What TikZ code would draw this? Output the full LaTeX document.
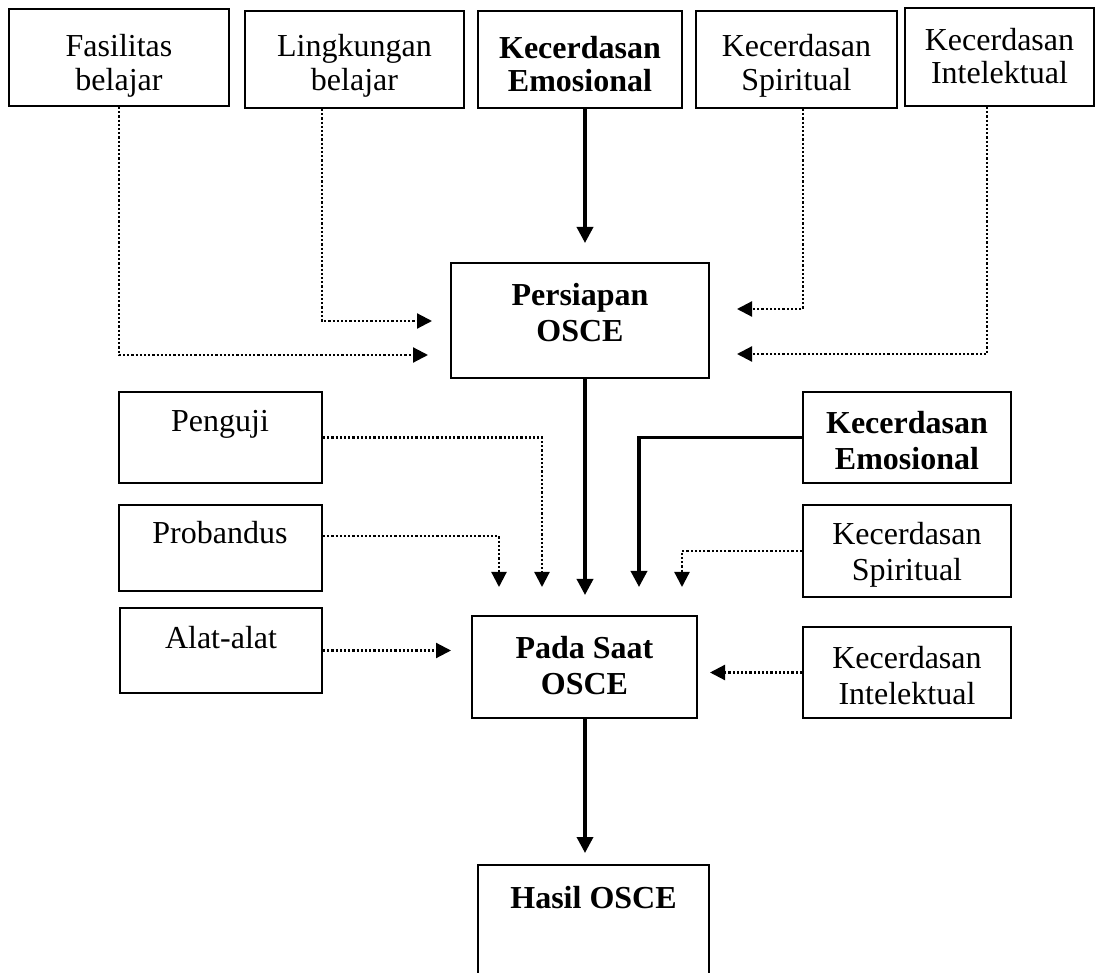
\documentclass[tikz,border=0pt]{standalone}
\usepackage{fontspec}
\setmainfont{Liberation Serif}
\usetikzlibrary{arrows.meta}
\tikzset{
  box/.style={draw, line width=2pt, inner sep=0pt},
  lbl/.style={font=\fontsize{32}{36}\selectfont, align=center, inner sep=0pt},
  lbltop/.style={font=\fontsize{32}{33.5}\selectfont, align=center, inner sep=0pt},
  dotarr/.style={line width=2.2pt, dash pattern=on 2.2pt off 2pt, -{Triangle[length=15pt,width=15pt]}},
  solarr/.style={line width=3.5pt, -{Triangle[length=16pt,width=16pt]}},
}
\begin{document}
\begin{tikzpicture}[x=1pt,y=-1pt]
\useasboundingbox (0,0) rectangle (1096,973);
\clip (0,0) rectangle (1096,973);

% top row boxes
\node[box, minimum width=220pt, minimum height=97pt] (fas) at (119,57.5) {};
\node[box, minimum width=219pt, minimum height=97pt] (ling) at (354.5,59.5) {};
\node[box, minimum width=204pt, minimum height=97pt] (emoA) at (580,59.5) {};
\node[box, minimum width=201pt, minimum height=97pt] (spiA) at (796.5,59.5) {};
\node[box, minimum width=189pt, minimum height=98pt] (intA) at (999.5,57) {};

\node[lbltop] (fasT) at (119,66) {Fasilitas\\belajar};
\node[lbltop] (lingT) at (354.5,66) {Lingkungan\\belajar};
\node[lbltop] (emoAT) at (580,64) {\textbf{Kecerdasan}\\\textbf{Emosional}};
\node[lbltop] (spiAT) at (796.5,66) {Kecerdasan\\Spiritual};
\node[lbltop] (intAT) at (999.5,56) {Kecerdasan\\Intelektual};

% middle
\node[box, minimum width=258pt, minimum height=115pt] (pers) at (580,320.5) {};
\node[lbl] (persT) at (580,313) {\textbf{Persiapan}\\\textbf{OSCE}};

% left boxes
\node[box, minimum width=203pt, minimum height=91pt] (pen) at (220.5,437.5) {};
\node[box, minimum width=203pt, minimum height=86pt] (prob) at (220.5,548) {};
\node[box, minimum width=202pt, minimum height=85pt] (alat) at (221,650.5) {};
\node[lbl] (penT) at (220,424) {Penguji};
\node[lbl] (probT) at (220,533) {Probandus};
\node[lbl] (alatT) at (221,638) {Alat-alat};

% right boxes
\node[box, minimum width=208pt, minimum height=91pt] (emoB) at (907,437.5) {};
\node[box, minimum width=208pt, minimum height=92pt] (spiB) at (907,551) {};
\node[box, minimum width=208pt, minimum height=91pt] (intB) at (907,672.5) {};
\node[lbl] (emoBT) at (907,441) {\textbf{Kecerdasan}\\\textbf{Emosional}};
\node[lbl] (spiBT) at (907,555) {Kecerdasan\\Spiritual};
\node[lbl] (intBT) at (907,676) {Kecerdasan\\Intelektual};

% Pada Saat
\node[box, minimum width=225pt, minimum height=102pt] (pada) at (584.5,667) {};
\node[lbl] (padaT) at (584.5,666) {\textbf{Pada Saat}\\\textbf{OSCE}};

% Hasil
\node[box, minimum width=231pt, minimum height=160pt] (hasil) at (593.5,945) {};
\node[lbl] (hasilT) at (593.5,898) {\textbf{Hasil OSCE}};

% helper coordinates
\coordinate (lingX) at (322,0);
\coordinate (emoX) at (585,0);
\coordinate (spiX) at (803,0);
\coordinate (intX) at (987,0);
\coordinate (probY) at (0,536);

\coordinate (fasEnd) at (428,355);
\coordinate (lingEnd) at (432,321);
\coordinate (emoAEnd) at (585,243);
\coordinate (spiAEnd) at (737,309);
\coordinate (intAEnd) at (737,354);
\coordinate (padaIn) at (585,595);
\coordinate (penEnd) at (542,587);
\coordinate (probEnd) at (499,587);
\coordinate (alatEnd) at (451,650.5);
\coordinate (emoBEnd) at (639,587);
\coordinate (spiBEnd) at (682,587);
\coordinate (intBEnd) at (710,672.5);
\coordinate (hasilIn) at (585,853);

% connectors
\draw[dotarr] (fas.south) |- (fasEnd);
\draw[dotarr] (ling.south -| lingX) |- (lingEnd);
\draw[solarr] (emoA.south -| emoX) -- (emoAEnd);
\draw[dotarr] (spiA.south -| spiX) |- (spiAEnd);
\draw[dotarr] (intA.south -| intX) |- (intAEnd);

\draw[solarr] (pers.south -| emoX) -- (padaIn);
\draw[dotarr] (pen.east) -| (penEnd);
\draw[dotarr] (prob.east |- probY) -| (probEnd);
\draw[dotarr] (alat.east) -- (alatEnd);
\draw[solarr] (emoB.west) -| (emoBEnd);
\draw[dotarr] (spiB.west) -| (spiBEnd);
\draw[dotarr] (intB.west) -- (intBEnd);
\draw[solarr] (pada.south -| emoX) -- (hasilIn);
\end{tikzpicture}
\end{document}
